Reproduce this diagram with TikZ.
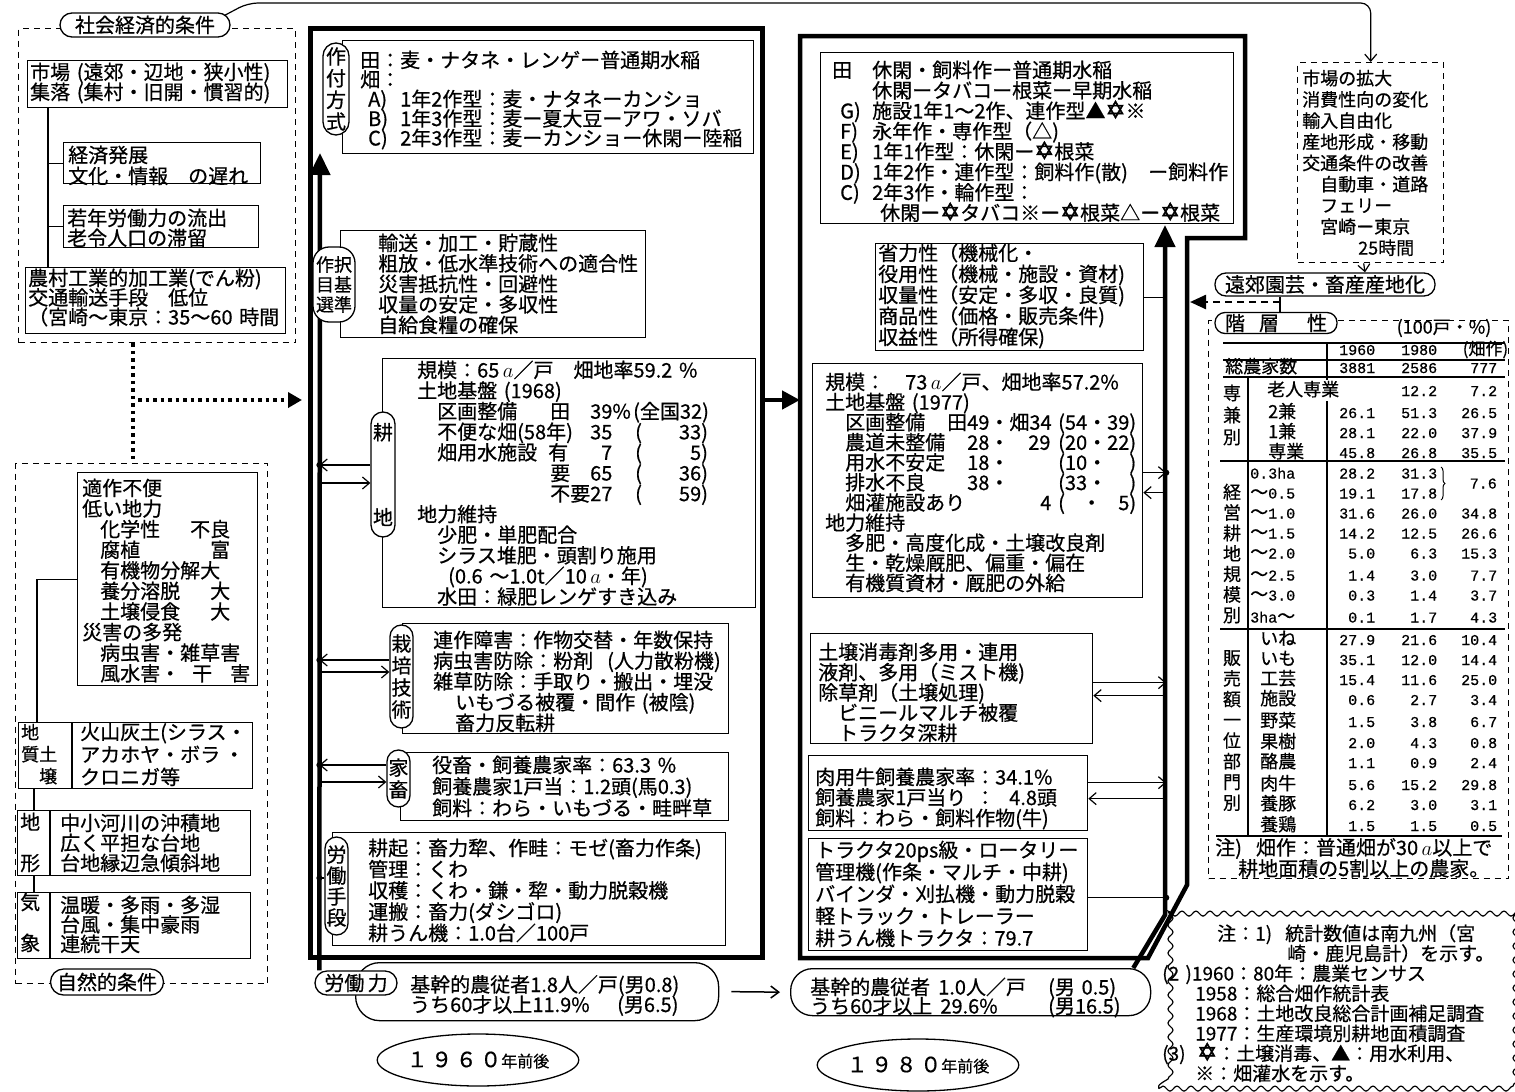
\documentclass[tikz,border=0pt]{standalone}
\usepackage{fontspec}
\setmainfont{Noto Sans CJK JP}[FakeBold=0.6]
\newfontfamily\monof{Liberation Mono}[FakeBold=0.6]
\newfontfamily\djv{DejaVu Sans}[FakeBold=2]
\usetikzlibrary{arrows.meta,shapes.geometric,decorations.pathmorphing,decorations.pathreplacing}
\newcommand\fs[2]{\fontsize{#1}{#2}\selectfont\lineskiplimit=-50pt\lineskip=0pt\relax}
\newcommand\mbl[2]{\makebox[#1pt][l]{#2}}
\newcommand\mbr[2]{\makebox[#1pt][r]{#2}}
\newcommand\sod{\makebox[20pt]{\djv\fontsize{24}{24}\selectfont\char"2721}}
\newcommand\are{$\,a$}
\newcommand\dig{\monof\fontsize{15}{15}\selectfont}
\newcommand\trow[6]{\node[tr] (#1) at (1250,#2) {\makebox[125pt][l]{#3\hfill{\dig #4}}\makebox[62pt][r]{\dig #5}\makebox[60pt][r]{\dig #6}};}
\begin{document}
\begin{tikzpicture}[x=1pt,y=-1pt,
 bx/.style={draw, line width=1.3pt, anchor=north west, inner sep=0pt},
 tx/.style={anchor=base west, inner sep=0pt, align=left, text width=#1},
 tx/.default=430pt,
 pill/.style={draw, line width=1.3pt, fill=white, rounded corners=#1, inner sep=0pt, align=center},
 frm/.style={line width=4.5pt, line join=miter},
 shaft/.style={line width=4.5pt, -{Triangle[length=22pt,width=20pt]}},
 con/.style={line width=1.2pt},
 arr/.style={line width=1.2pt, -{Straight Barb[length=7pt,width=12pt]}},
 dot/.style={circle, fill, inner sep=0pt, minimum size=6pt},
 dsh/.style={draw, line width=1.4pt, dash pattern=on 6pt off 5pt, anchor=north west, inner sep=0pt},
 tr/.style={anchor=base west, inner sep=0pt, font=\fs{18}{18}},
 tl/.style={line width=1.2pt}]
\useasboundingbox (0,0) rectangle (1515,1092);

% ---------- frames ----------
\node[draw, line width=4.5pt, anchor=north west, inner sep=0pt, minimum width=452pt, minimum height=929pt] (f60) at (308,26) {};
\draw[frm] (800,36) -- (1245,36) -- (1245,238) -- (1187,238) -- (1187,885) -- (1148,958) -- (800,958) -- cycle;
\coordinate (f80w) at (800,400);
\coordinate (f80e) at (1190,302);
\coordinate (tip60) at (320,153);
\coordinate (tip80) at (1165,225);
\coordinate (topy) at (0,3);
\draw[line width=4.5pt, -{Triangle[length=18pt,width=18pt]}] (f60.east |- f80w) -- (f80w);

% ---------- labour force (bottom) ----------
\node[draw, rounded corners=24pt, line width=1.3pt, anchor=north west, inner sep=0pt, minimum width=363pt, minimum height=58pt] (l60b) at (355,962) {};
\node[pill=12pt, minimum width=82pt, minimum height=24pt, font=\fs{20}{20}] (lp60) at (356,983) {労働\,力};
\node[tx, font=\fs{20}{20}] (l60t) at (410,992) {基幹的農従者1.8人／戸(男0.8)\\\mbl{207}{うち60才以上11.9\%}(男6.5)};
\node[draw, rounded corners=22pt, line width=1.3pt, anchor=north west, inner sep=0pt, minimum width=360pt, minimum height=47pt] (l80b) at (790,968) {};
\node[tx, font=\fs{20}{19}] (l80t) at (810,994.5) {\mbl{238}{基幹的農従者\hspace{8pt}1.0人／戸}(男 0.5)\\\mbl{238}{うち60才以上\hspace{8pt}29.6\%}(男16.5)};
\draw[line width=1.5pt, -{Straight Barb[length=8pt,width=12pt]}] ([xshift=12pt]l60b.east) -- ([xshift=-10pt]l80b.west);
\node[draw, ellipse, line width=1.3pt, minimum width=158pt, minimum height=52pt, inner sep=0pt, font=\fs{21}{21}] (y60) at (478,1060) {１\,９\,６\,０{\fs{16}{16}年前後}};
\node[draw, ellipse, line width=1.3pt, minimum width=158pt, minimum height=52pt, inner sep=0pt, font=\fs{21}{21}] (y80) at (918,1065) {１\,９\,８\,０{\fs{16}{16}年前後}};

% ---------- shafts ----------
\draw[shaft] ([xshift=5pt]lp60.north west) -- (tip60);
\draw[shaft] ([xshift=-18pt]l80b.north east) -- (1165,915) -- (tip80);

% ---------- left upper ----------
\node[dsh, minimum width=277pt, minimum height=314pt] (soc) at (18,28) {};
\node[pill=12pt, minimum width=170pt, minimum height=24pt, font=\fs{20}{20}] (socl) at (145,25) {社会経済的条件};
\node[bx, minimum width=260pt, minimum height=47pt] (bA) at (27,60) {};
\node[tx, font=\fs{20}{20}] (tA) at (30,79.5) {市場 (遠郊・辺地・狭小性)\\集落 (集村・旧開・慣習的)};
\node[bx, minimum width=197pt, minimum height=41pt] (bB) at (63,142) {};
\node[tx, font=\fs{20}{21}] (tB) at (68,162.5) {経済発展\\文化・情報　の遅れ};
\node[bx, minimum width=195pt, minimum height=42pt] (bC) at (63,205) {};
\node[tx, font=\fs{20}{20}] (tC) at (67,225.5) {若年労働力の流出\\老令人口の滞留};
\node[bx, minimum width=260pt, minimum height=66pt] (bD) at (25,267) {};
\node[tx, font=\fs{20}{19.5}] (tD) at (28,285.5) {農村工業的加工業(でん粉)\\交通輸送手段　低位\\（宮崎～東京：35～60 時間};
\draw[con] ([xshift=21pt]bA.south west) -- ([xshift=23pt]bD.north west);
\draw[con] (bB.west) -- ++(-15,0);
\draw[con] (bC.west) -- ++(-15,0);

% ---------- left lower ----------
\node[dsh, minimum width=252pt, minimum height=520pt] (nat) at (15,463) {};
\node[pill=13pt, minimum width=113pt, minimum height=26pt, font=\fs{20}{20}] (natl) at (107,982) {自然的条件};
\node[bx, minimum width=180pt, minimum height=213pt] (bE) at (77,472) {};
\node[tx, font=\fs{20}{20.6}] (tE) at (82,495.5) {適作不便\\低い地力\\\hspace*{18pt}\mbl{90}{化学性}不良\\\hspace*{18pt}\mbl{110}{腐植}富\\\hspace*{18pt}有機物分解大\\\hspace*{18pt}\mbl{110}{養分溶脱}大\\\hspace*{18pt}\mbl{110}{土壌侵食}大\\災害の多発\\\hspace*{18pt}病虫害・雑草害\\\hspace*{18pt}\mbl{92}{風水害・}\mbl{38}{干}害};
\node[bx, minimum width=234pt, minimum height=66pt] (bF) at (18,722) {};
\draw[con] ([xshift=54pt]bF.north west) -- ([xshift=54pt]bF.south west);
\node[tx, font=\fs{18}{22}] (tF1) at (21,739) {地\\質土\\\hspace*{18pt}壌};
\node[tx, font=\fs{20}{22.5}] (tF2) at (80,739.5) {火山灰土(シラス・\\アカホヤ・ボラ\hspace{4pt}・\\クロニガ等};
\node[bx, minimum width=233pt, minimum height=65pt] (bG) at (17,810) {};
\draw[con] ([xshift=33pt]bG.north west) -- ([xshift=33pt]bG.south west);
\node[tx, font=\fs{20}{41}] (tG1) at (20,829.5) {地\\形};
\node[tx, font=\fs{20}{20}] (tG2) at (60,830.5) {中小河川の沖積地\\広く平担な台地\\台地縁辺急傾斜地};
\node[bx, minimum width=233pt, minimum height=66pt] (bH) at (17,892) {};
\draw[con] ([xshift=33pt]bH.north west) -- ([xshift=33pt]bH.south west);
\node[tx, font=\fs{20}{41}] (tH1) at (20,909.5) {気\\象};
\node[tx, font=\fs{20}{19.5}] (tH2) at (60,912.5) {温暖・多雨・多湿\\台風・集中豪雨\\連続干天};
\draw[con] (bE.west) -| ([xshift=19pt]bF.north west);
\draw[con] ([xshift=16pt]bF.south west) -- ([xshift=17pt]bG.north west);
\draw[con] ([xshift=17pt]bG.south west) -- ([xshift=17pt]bH.north west);

% dotted link
\draw[line width=3.5pt, dash pattern=on 3.5pt off 4pt] ([xshift=115pt]soc.south west) -- ([xshift=118pt]nat.north west);
\coordinate (dj) at (133,400);
\coordinate (djend) at (f60.west |- dj);
\draw[line width=3.5pt, dash pattern=on 3.5pt off 4pt, -{Triangle[length=14pt,width=15pt]}] ([xshift=5pt]dj) -- ([xshift=-6pt]djend);

% ---------- 1960 column ----------
\node[bx, minimum width=411pt, minimum height=113pt] (s60) at (342,40) {};
\node[tx, font=\fs{20}{19.5}] (s60t) at (360,67.5) {田：麦・ナタネ・レンゲー普通期水稲\\畑：\\\hspace*{8pt}\mbl{32}{A)}1年2作型：麦・ナタネーカンショ\\\hspace*{8pt}\mbl{32}{B)}1年3作型：麦ー夏大豆ーアワ・ソバ\\\hspace*{8pt}\mbl{32}{C)}2年3作型：麦ーカンショー休閑ー陸稲};
\node[pill=13pt, minimum width=26pt, minimum height=92pt, font=\fs{20}{21.7}] (s60p) at (336,89) {作\\付\\方\\式};

\node[bx, minimum width=305pt, minimum height=107pt] (e60) at (340,230) {};
\node[tx, font=\fs{20}{20.5}] (e60t) at (378,250.5) {輸送・加工・貯蔵性\\粗放・低水準技術への適合性\\災害抵抗性・回避性\\収量の安定・多収性\\自給食糧の確保};
\node[pill=16pt, minimum width=42pt, minimum height=75pt, font=\fs{18}{20}] (e60p) at (334,284.5) {作択\\目基\\選準};

\node[bx, minimum width=373pt, minimum height=249pt] (k60) at (382,358) {};
\node[tx, font=\fs{20}{20.6}] (k60t) at (417,377.5) {規模：65\are／戸　畑地率59.2 \%\\土地基盤 (1968)\\\mbl{133}{　区画整備}\mbl{40}{田}\mbl{43}{39\%}(全国32)\\\mbl{173}{　不便な畑(58年)}\mbl{45}{35}(\mbr{66}{33)}\\\mbl{131}{　畑用水施設}\makebox[64pt][s]{有\hfill 7}\hspace*{23pt}(\mbr{66}{5)}\\\hspace*{133pt}\mbl{40}{要}\mbl{45}{65}(\mbr{66}{36)}\\\hspace*{133pt}\mbl{85}{不要27}(\mbr{66}{59)}\\地力維持\\　少肥・単肥配合\\　シラス堆肥・頭割り施用\\\hspace*{31pt}(0.6 ～1.0t／10\are・年)\\　水田：緑肥レンゲすき込み};
\node[pill=12pt, minimum width=24pt, minimum height=125pt, font=\fs{20}{20.5}] (k60p) at (383,474.5) {耕\\[64.5pt]地};

\node[bx, minimum width=326pt, minimum height=110pt] (t60) at (402,623) {};
\node[tx, font=\fs{20}{20.75}] (t60t) at (433,647.5) {連作障害：作物交替・年数保持\\病虫害防除：粉剤\hspace{14pt}(人力散粉機)\\雑草防除：手取り・搬出・埋没\\\hspace*{22pt}いもづる被覆・間作 (被陰)\\\hspace*{22pt}畜力反転耕};
\node[pill=11.5pt, minimum width=23pt, minimum height=103pt, font=\fs{20}{22}] (t60p) at (401.5,676.5) {栽\\培\\技\\術};

\node[bx, minimum width=328pt, minimum height=68pt] (a60) at (400,752) {};
\node[tx, font=\fs{20}{21.5}] (a60t) at (432,772.5) {役畜・飼養農家率：63.3 \%\\飼養農家1戸当：1.2頭(馬0.3)\\飼料：わら・いもづる・畦畔草};
\node[pill=11.5pt, minimum width=23pt, minimum height=57pt, font=\fs{20}{22}] (a60p) at (398.5,778.5) {家\\畜};

\node[bx, minimum width=393pt, minimum height=113pt] (w60) at (332,832) {};
\node[tx, font=\fs{20}{21.25}] (w60t) at (368,855.5) {耕起：畜力犂、作畦：モゼ(畜力作条)\\管理：くわ\\収穫：くわ・鎌・犂・動力脱穀機\\運搬：畜力(ダシゴロ)\\耕うん機：1.0台／100戸};
\node[pill=11.5pt, minimum width=23pt, minimum height=98pt, font=\fs{20}{21}] (w60p) at (336.5,886) {労\\働\\手\\段};

% 1960 connectors
\draw[arr] ([shift={(0,-9.5)}]k60p.west) -- ([shift={(-51,-9.5)}]k60p.west) node[dot] (dk60) {};
\draw[arr] ([shift={(-51,8.5)}]k60p.west) -- ([shift={(0,8.5)}]k60p.west);
\draw[arr] ([shift={(0,-16.5)}]t60p.west) -- ([shift={(-70,-16.5)}]t60p.west) node[dot] (dt60) {};
\draw[arr] ([shift={(-70,-4.5)}]t60p.west) -- ([shift={(0,-4.5)}]t60p.west);
\draw[arr] ([shift={(0,-13.5)}]a60p.west) -- ([shift={(-67,-13.5)}]a60p.west) node[dot] (da60) {};
\draw[arr] ([shift={(-67,3.5)}]a60p.west) -- ([shift={(0,3.5)}]a60p.west);
\draw[con] ([shift={(0,-8)}]w60p.west) -- ([shift={(-5,-8)}]w60p.west) node[dot] (dw60) {};

% ---------- 1980 column ----------
\node[bx, minimum width=413pt, minimum height=171pt] (s80) at (820,52) {};
\node[tx, font=\fs{20}{20.4}] (s80t) at (832,77.5) {\mbl{40}{田}休閑・飼料作ー普通期水稲\\\hspace*{40pt}休閑ータバコー根菜ー早期水稲\\\hspace*{8pt}\mbl{32}{G)}施設1年1～2作、連作型▲\sod※\\\hspace*{8pt}\mbl{32}{F)}永年作・専作型（△)\\\hspace*{8pt}\mbl{32}{E)}1年1作型：休閑ー\sod 根菜\\\hspace*{8pt}\mbl{32}{D)}\mbl{276}{1年2作・連作型：飼料作(散)}ー飼料作\\\hspace*{8pt}\mbl{32}{C)}2年3作・輪作型：\\\hspace*{48pt}休閑ー\sod タバコ※ー\sod 根菜△ー\sod 根菜};

\node[bx, minimum width=268pt, minimum height=107pt] (e80) at (875,243) {};
\node[tx, font=\fs{20}{21}] (e80t) at (878,260.5) {省力性（機械化・\\役用性（機械・施設・資材)\\収量性（安定・多収・良質)\\商品性（価格・販売条件)\\収益性（所得確保)};

\node[bx, minimum width=330pt, minimum height=234pt] (k80) at (812,363) {};
\node[tx, font=\fs{20}{20.1}] (k80t) at (825,389.5) {規模：　73\are／戸、畑地率57.2\%\\土地基盤 (1977)\\\mbl{122}{　区画整備}\mbl{111}{田49・畑34}(54・39)\\\mbl{142}{　農道未整備}\mbl{61}{28・}\mbl{30}{29}(20・22)\\\mbl{142}{　用水不安定}\mbl{91}{18・}\makebox[78pt][s]{(10・\hfill)}\\\mbl{142}{　排水不良}\mbl{91}{38・}\makebox[78pt][s]{(33・\hfill)}\\\mbl{215}{　畑灌施設あり}\mbl{18}{4}\makebox[78pt][s]{(\hfill・\hfill 5)}\\地力維持\\　多肥・高度化成・土壌改良剤\\　生・乾燥厩肥、偏重・偏在\\　有機質資材・厩肥の外給};

\node[bx, minimum width=282pt, minimum height=110pt] (t80) at (810,633) {};
\node[tx, font=\fs{20}{20.25}] (t80t) at (818,659.5) {土壌消毒剤多用・連用\\液剤、多用（ミスト機)\\除草剤（土壌処理)\\　ビニールマルチ被覆\\　トラクタ深耕};

\node[bx, minimum width=279pt, minimum height=75pt] (a80) at (808,755) {};
\node[tx, font=\fs{20}{20.5}] (a80t) at (815,784.5) {肉用牛飼養農家率：34.1\%\\\mbl{160}{飼養農家1戸当り}：\hspace{14pt}4.8頭\\飼料：わら・飼料作物(牛)};

\node[bx, minimum width=279pt, minimum height=112pt] (w80) at (808,838) {};
\node[tx, font=\fs{20}{22}] (w80t) at (815,857.5) {トラクタ20ps級・ロータリー\\管理機(作条・マルチ・中耕)\\バインダ・刈払機・動力脱穀\\軽トラック・トレーラー\\耕うん機トラクタ：79.7};

% 1980 connectors
\draw[con] (e80.east) -- +(22,0);
\draw[arr] ([shift={(0,-8)}]k80.east) -- ([shift={(23,-8)}]k80.east) node[dot] (dk80) {};
\draw[arr] ([shift={(23,12)}]k80.east) -- ([shift={(0,12)}]k80.east);
\draw[arr] ([shift={(0,-6)}]t80.east) -- ([shift={(73,-6)}]t80.east);
\draw[arr] ([shift={(73,7)}]t80.east) -- ([shift={(0,7)}]t80.east);
\draw[arr] ([shift={(0,-10.5)}]a80.east) -- ([shift={(78,-10.5)}]a80.east);
\draw[arr] ([shift={(78,5.5)}]a80.east) -- ([shift={(0,5.5)}]a80.east);
\draw[con] ([shift={(0,3)}]w80.east) -- ([shift={(78,3)}]w80.east) node[dot] (dw80) {};

% ---------- right column ----------
\node[dsh, minimum width=146pt, minimum height=200pt] (mkt) at (1297,62) {};
\node[tx, font=\fs{18}{21.2}] (mktt) at (1302,85) {市場の拡大\\消費性向の変化\\輸入自由化\\産地形成・移動\\交通条件の改善\\　自動車・道路\\　フェリー\\　宮崎ー東京\\\hspace*{56pt}25時間};
\draw[arr, rounded corners=10pt] ([shift={(-6,3)}]socl.north east) -- (248,3) -- (mkt.north |- topy) -- (mkt.north);

\node[pill=11pt, minimum width=220pt, minimum height=23pt, font=\fs{20}{20}] (enk) at (1325,284.5) {遠郊園芸・畜産産地化};
\draw[arr] ([xshift=-7pt]mkt.south) -- ([xshift=40pt]enk.north);
\node[dsh, minimum width=300pt, minimum height=558pt] (tbl) at (1208,320) {};
\node[pill=10pt, minimum width=122pt, minimum height=21pt, font=\fs{20}{20}] (kai) at (1276,323) {階\hspace{14pt}層\hspace{28pt}性};
\draw[con] ([xshift=-45pt]enk.south) -- ([xshift=4pt]kai.north);
\coordinate (ej) at (1280,302);
\draw[line width=2.5pt, dash pattern=on 7pt off 5pt, -{Triangle[length=16pt,width=14pt]}] (ej) -- (f80e);
\node[font=\fs{18}{18}, inner sep=0pt] (unit) at (1444,328) {(100戸・\%)};

% table lines
\draw[tl] (1223,343) -- (1505,343);
\draw[tl] (1223,360) -- (1505,360);
\draw[tl] (1223,377) -- (1505,377);
\draw[tl] (1220,461) -- (1505,461);
\draw[tl] (1220,629) -- (1505,629);
\draw[tl] (1216,836) -- (1502,836);
\draw[tl] (1327,343) -- (1327,380);
\draw[tl] (1327,401) -- (1327,836);
\draw[tl] (1248,377) -- (1248,836);

\node[tr] (th) at (1250,355) {\makebox[125pt][r]{\dig 1960}\makebox[62pt][r]{\dig 1980}\makebox[71pt][r]{\fs{17}{17}(畑作)}};
\node[tr] (r0) at (1225,373) {\makebox[150pt][l]{総農家数\hfill{\dig 3881}}\makebox[62pt][r]{\dig 2586}\makebox[60pt][r]{\dig 777}};
\trow{r1}{396}{\hspace*{17pt}老人専業}{}{12.2}{7.2}
\trow{r2}{418}{\hspace*{18pt}2兼}{26.1}{51.3}{26.5}
\trow{r3}{438}{\hspace*{18pt}1兼}{28.1}{22.0}{37.9}
\trow{r4}{458}{\hspace*{18pt}専業}{45.8}{26.8}{35.5}
\trow{r5}{478.5}{{\dig 0.3ha}}{28.2}{31.3}{}
\trow{r6}{498.5}{～{\dig 0.5}}{19.1}{17.8}{}
\trow{r7}{518.5}{～{\dig 1.0}}{31.6}{26.0}{34.8}
\trow{r8}{538.5}{～{\dig 1.5}}{14.2}{12.5}{26.6}
\trow{r9}{558.5}{～{\dig 2.0}}{5.0}{6.3}{15.3}
\trow{r10}{580.5}{～{\dig 2.5}}{1.4}{3.0}{7.7}
\trow{r11}{600.5}{～{\dig 3.0}}{0.3}{1.4}{3.7}
\trow{r12}{622.5}{{\dig 3ha}～}{0.1}{1.7}{4.3}
\trow{r13}{645}{\hspace*{10pt}いね}{27.9}{21.6}{10.4}
\trow{r14}{665}{\hspace*{10pt}いも}{35.1}{12.0}{14.4}
\trow{r15}{685}{\hspace*{10pt}工芸}{15.4}{11.6}{25.0}
\trow{r16}{705}{\hspace*{10pt}施設}{0.6}{2.7}{3.4}
\trow{r17}{727}{\hspace*{10pt}野菜}{1.5}{3.8}{6.7}
\trow{r18}{748}{\hspace*{10pt}果樹}{2.0}{4.3}{0.8}
\trow{r19}{768}{\hspace*{10pt}酪農}{1.1}{0.9}{2.4}
\trow{r20}{790}{\hspace*{10pt}肉牛}{5.6}{15.2}{29.8}
\trow{r21}{810}{\hspace*{10pt}養豚}{6.2}{3.0}{3.1}
\trow{r22}{831}{\hspace*{10pt}養鶏}{1.5}{1.5}{0.5}
\draw[decorate, decoration={brace, amplitude=4pt}, line width=1pt] (1441,467) -- (1441,500);
\node[anchor=base east, inner sep=0pt, font=\dig] (b76) at (1497,488.5) {7.6};
\node[font=\fs{18}{22}, align=center, inner sep=0pt] (c1) at (1232,415) {専\\兼\\別};
\node[font=\fs{18}{20.5}, align=center, inner sep=0pt] (c2) at (1232,553.5) {経\\営\\耕\\地\\規\\模\\別};
\node[font=\fs{18}{20.7}, align=center, inner sep=0pt] (c3) at (1232,730.5) {販\\売\\額\\一\\位\\部\\門\\別};
\node[tx, font=\fs{20}{21}] (tn) at (1215,855) {注)\hspace{14pt}畑作：普通畑が30\are 以上で\\\hspace*{23pt}耕地面積の5割以上の農家。};

% notes
\node[draw, line width=1.2pt, decorate, decoration={snake, amplitude=2.5pt, segment length=14pt}, anchor=north west, inner sep=0pt, minimum width=350pt, minimum height=176pt] (nbox) at (1158,912) {};
\node[tx, font=\fs{19}{20}] (nt) at (1162,940.5) {\hspace*{55pt}注：\mbl{30}{1)}統計数値は南九州（宮\\\hspace*{125pt}崎・鹿児島計）を示す。\\(2 )1960：80年：農業センサス\\\hspace*{33pt}1958：総合畑作統計表\\\hspace*{33pt}1968：土地改良総合計画補足調査\\\hspace*{33pt}1977：生産環境別耕地面積調査\\\mbl{35}{(3)}\sod：土壌消毒、▲：用水利用、\\\hspace*{33pt}※：畑灌水を示す。};
\end{tikzpicture}
\end{document}
